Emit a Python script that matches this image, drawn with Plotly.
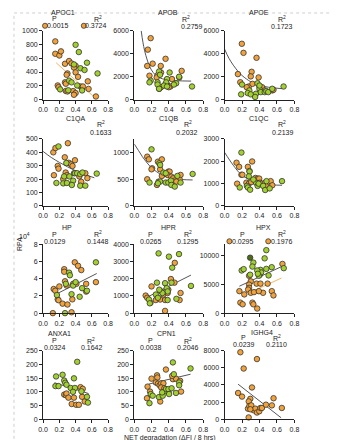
import plotly.graph_objects as go

W, H = 338, 440

# ---------------- data ----------------
# group codes: o = orange, g = green, d = dark green
APOC1_x = [0.15,0.15,0.20,0.22,0.27,0.32,0.35,0.40,0.38,0.30,0.29,0.40,0.43,0.55,0.56,0.18,0.19,0.27,0.28,0.28,0.30,0.37,0.40,0.38,0.46,0.48,0.49,0.65,
           0.40,0.44,0.38,0.46,0.51,0.54,0.67,0.32,0.35,0.42,0.21,0.31,0.48]
APOC1_y = [845,665,640,700,520,560,525,490,465,380,360,395,330,265,155,205,180,250,230,125,118,123,95,70,190,155,190,45,
           795,690,510,455,430,535,380,275,250,205,148,135,133]
APOC1_g = ["o"]*28 + ["g"]*13
APOC1_fit_x = [0.16, 0.65]
APOC1_fit_y = [535, 15]

APOB_x = [0.19,0.157,0.213,0.15,0.176,0.27,0.307,0.31,0.363,0.26,0.29,0.31,0.38,0.437,0.55,0.42,0.40,0.36,0.523,
          0.19,0.176,0.288,0.299,0.41,0.38,0.37,0.344,0.38,0.486,0.46,0.27,0.27,0.288,0.52,0.67]
APOB_y = [5350,4350,3130,2930,2080,2130,2930,2360,3550,1930,940,1080,1310,1790,2500,1140,1080,1310,1930,
          1650,1500,2450,2160,2360,1790,1500,1220,1140,1420,1310,1500,1310,940,1990,1140]
APOB_g = ["o"]*19 + ["g"]*16
APOB_fit_x = [0.08,0.10,0.12,0.15,0.18,0.22,0.27,0.33,0.40,0.50,0.66]
APOB_fit_y = [6000,5000,4250,3450,2850,2350,2000,1800,1700,1640,1610]

APOE_x = [0.198,0.217,0.366,0.153,0.31,0.30,0.39,0.18,0.277,0.32,0.40,0.43,0.254,0.546,0.56,0.46,
          0.20,0.19,0.284,0.265,0.30,0.36,0.377,0.40,0.415,0.46,0.478,0.50,0.546,0.676,0.35,0.40]
APOE_y = [4860,4070,3640,2220,2420,2020,1930,1510,1140,1370,1140,1080,1080,800,850,800,
          1310,455,800,570,455,510,1420,940,650,650,740,650,940,1140,230,1220]
APOE_g = ["o"]*16 + ["g"]*16
APOE_fit_x = [0.0,0.05,0.10,0.15,0.20,0.25,0.30,0.40,0.50,0.66]
APOE_fit_y = [4400,3600,3000,2500,2100,1800,1550,1250,1080,950]

C1QA_x = [0.126,0.152,0.305,0.267,0.316,0.343,0.362,0.392,0.18,0.19,0.133,0.278,0.293,0.381,0.446,0.469,0.52,0.545,0.248,
          0.19,0.286,0.259,0.248,0.164,0.293,0.324,0.37,0.392,0.419,0.457,0.484,0.354,0.457,0.52,0.66]
C1QA_y = [400,432,468,363,322,310,298,341,298,278,229,249,229,244,220,180,244,207,200,
          444,320,220,168,171,171,220,188,244,244,237,249,156,151,151,241]
C1QA_g = ["o"]*19 + ["g"]*16
C1QA_fit_x = [0.0,0.1,0.2,0.3,0.4,0.5,0.63]
C1QA_fit_y = [407,362,325,292,262,237,210]

C1QB_x = [0.15,0.169,0.207,0.20,0.274,0.32,0.30,0.395,0.41,0.387,0.43,0.45,0.32,0.282,0.263,0.15,0.47,0.526,0.537,0.489,
          0.20,0.177,0.29,0.30,0.338,0.365,0.30,0.274,0.365,0.395,0.425,0.43,0.47,0.50,0.537,0.677]
C1QB_y = [919,869,702,683,826,869,683,640,640,578,546,515,559,453,391,497,472,497,578,453,
          1056,435,795,764,621,609,453,422,435,435,472,391,360,559,435,596]
C1QB_g = ["o"]*20 + ["g"]*16
C1QB_fit_x = [0.0,0.05,0.094,0.15,0.207,0.32,0.43,0.55,0.677]
C1QB_fit_y = [1155,1030,919,800,702,578,515,492,484]

C1QC_x = [0.137,0.167,0.267,0.316,0.286,0.193,0.204,0.144,0.353,0.379,0.397,0.405,0.427,0.25,0.278,0.305,0.465,0.528,0.472,0.547,
          0.193,0.286,0.278,0.174,0.256,0.267,0.293,0.36,0.379,0.39,0.442,0.465,0.48,0.517,0.658,0.33]
C1QC_y = [1934,1749,1749,1991,1564,1394,1394,995,1251,1223,1223,1038,995,1038,995,1066,1038,1109,896,924,
          2389,1536,1322,824,896,824,725,1038,896,995,896,711,1109,782,1109,1180]
C1QC_g = ["o"]*20 + ["g"]*16
C1QC_fit_x = [0.0,0.05,0.10,0.193,0.323,0.472,0.658]
C1QC_fit_y = [2400,2100,1820,1394,1109,967,924]

HP_x = [0.12,0.13,0.15,0.18,0.19,0.24,0.20,0.26,0.26,0.27,0.30,0.29,0.35,0.36,0.37,0.39,0.41,0.43,0.47,0.53,0.53,0.65,
        0.17,0.28,0.27,0.32,0.33,0.35,0.37,0.40,0.45,0.48,0.54,0.65]
HP_y = [0.0,2.8,2.6,1.6,1.5,1.1,3.1,5.1,4.8,3.7,1.0,3.2,0.1,1.6,3.4,5.9,3.4,5.5,5.0,2.5,3.4,3.6,
        2.1,3.4,0.0,4.7,4.4,2.2,3.2,3.6,1.9,2.9,2.6,5.9]
HP_g = ["o"]*22 + ["g"]*12
HP_fit_x = [0.16, 0.66]
HP_fit_y = [2.2, 4.6]

HPR_x = [0.47,0.425,0.466,0.20,0.312,0.338,0.387,0.395,0.132,0.15,0.188,0.25,0.30,0.357,0.357,0.526,0.537,
         0.282,0.402,0.519,0.44,0.357,0.432,0.376,0.387,0.327,0.263,0.25,0.17,0.18,0.274,0.29,0.387,0.489,0.658]
HPR_y = [2920,1980,1770,1550,1260,1080,1170,1360,1020,890,600,760,790,760,130,760,1170,
         3470,3280,3430,2640,1740,1770,1450,1260,1170,1770,1080,790,570,890,1360,760,830,1580]
HPR_g = ["o"]*17 + ["g"]*18
HPR_fit_x = [0.17, 0.658]
HPR_fit_y = [980, 2210]

HPX_x = [0.663,0.393,0.404,0.281,0.30,0.281,0.281,0.17,0.226,0.27,0.30,0.337,0.367,0.411,0.493,0.541,0.56,0.441,0.393,0.181,0.207,0.319,0.33,0.374,
         0.478,0.293,0.459,0.33,0.319,0.196,0.219,0.54,0.678,0.478,0.411,0.419,0.374,0.293,0.504,0.393,0.381]
HPX_y = [8570,6970,6690,6510,5540,4970,4400,3830,3260,4110,3540,3660,5140,5140,5140,3830,3090,3540,3830,1830,1540,1830,1540,800,
         10970,9660,9540,8800,8110,7430,7660,8000,7830,7710,7540,7090,7430,6690,6570,6510,6860]
HPX_g = ["o"]*24 + ["g", "d"] + ["g"]*15
HPX_fit_x = [0.17, 0.67]
HPX_fit_y = [4690, 8230]
HPX_fit2_x = [0.281, 0.652]
HPX_fit2_y = [3540, 6110]

ANXA1_x = [0.26,0.28,0.288,0.312,0.352,0.38,0.408,0.44,0.46,0.48,0.512,0.488,
           0.42,0.16,0.152,0.19,0.24,0.26,0.272,0.288,0.38,0.34,0.392,0.368,0.472,0.54,0.552]
ANXA1_y = [90,88,94,79,56,79,53,53,117,82,65,111,
           209,156,121,121,162,141,133,126,149,114,114,100,102,82,61]
ANXA1_g = ["o"]*12 + ["g"]*15
ANXA1_fit_x = [0.14, 0.56]
ANXA1_fit_y = [133, 94]

CPN1_x = [0.2,0.154,0.147,0.183,0.264,0.268,0.25,0.275,0.294,0.312,0.338,0.367,0.312,0.349,0.301,0.459,0.448,0.484,0.44,0.532,0.543,0.396,
          0.448,0.653,0.459,0.19,0.213,0.176,0.286,0.33,0.36,0.367,0.396,0.404,0.433,0.484,0.521,0.521,0.323]
CPN1_y = [148,119,77,101,160,152,134,130,124,131,131,181,116,113,65,148,146,148,158,140,101,101,
          207,185,164,92,86,59,81,86,104,110,110,92,113,96,134,124,98]
CPN1_g = ["o"]*22 + ["g"]*17
CPN1_fit_x = [0.165, 0.653]
CPN1_fit_y = [128, 164]

IGHG4_x = [0.181,0.371,0.219,0.314,0.155,0.20,0.295,0.277,0.561,0.542,0.656,0.268,0.284,0.306,0.333,0.352,0.371,0.398,0.41,0.428,0.474,0.295,0.276]
IGHG4_y = [7800,7010,5910,3710,3070,2650,2390,2090,2460,1630,1330,1250,1550,1630,1060,1250,800,950,1330,1330,1710,1180,230]
IGHG4_g = ["o"]*23
IGHG4_fit_x = [0.155, 0.648]
IGHG4_fit_y = [4090, 190]

TITLES = ["APOC1","APOB","APOE","C1QA","C1QB","C1QC","HP","HPR","HPX","ANXA1","CPN1","IGHG4"]
P_VALUES = ["0.0015", None, None, None, None, None, "0.0129", "0.0265", "0.0295", "0.0324", "0.0038", "0.0239"]
R2_VALUES = ["0.3724","0.2759","0.1723","0.1633","0.2032","0.2139","0.1448","0.1295","0.1976","0.1642","0.2046","0.2110"]
Y_MAX = [1000, 6000, 6000, 500, 1250, 3000, 8, 4000, 12000, 250, 250, 8000]
Y_DTICK = [200, 2000, 2000, 100, 500, 1000, 2, 1000, 5000, 50, 50, 2000]
X_TICKS = [0.0, 0.2, 0.4, 0.6, 0.8]
X_TITLE = "NET degradation (ΔFI / 8 hrs)"
Y_TITLE = "RPA"

# ---------------- style ----------------
ORANGE = "#F2A23A"
GREEN = "#A2D12E"
DKGREEN = "#4E6B16"
FILL = {"o": ORANGE, "g": GREEN, "d": DKGREEN}
LINE_GRAY = "#555555"
LINE_ORANGE = "#F7B860"
FONT = "Liberation Sans"
TXT = "#222222"

COLX = [(31, 98), (125, 196), (218, 290)]
ROWY = [(19, 89), (129, 197), (236, 306), (344, 414)]

def fx(px):
    return px / W

def fy(py):
    return 1 - py / H

panels = [
    (APOC1_x, APOC1_y, APOC1_g, [(APOC1_fit_x, APOC1_fit_y, LINE_ORANGE, "linear")]),
    (APOB_x, APOB_y, APOB_g, [(APOB_fit_x, APOB_fit_y, LINE_GRAY, "spline")]),
    (APOE_x, APOE_y, APOE_g, [(APOE_fit_x, APOE_fit_y, LINE_GRAY, "spline")]),
    (C1QA_x, C1QA_y, C1QA_g, [(C1QA_fit_x, C1QA_fit_y, LINE_GRAY, "spline")]),
    (C1QB_x, C1QB_y, C1QB_g, [(C1QB_fit_x, C1QB_fit_y, LINE_GRAY, "spline")]),
    (C1QC_x, C1QC_y, C1QC_g, [(C1QC_fit_x, C1QC_fit_y, LINE_GRAY, "spline")]),
    (HP_x, HP_y, HP_g, [(HP_fit_x, HP_fit_y, LINE_GRAY, "linear")]),
    (HPR_x, HPR_y, HPR_g, [(HPR_fit_x, HPR_fit_y, LINE_GRAY, "linear")]),
    (HPX_x, HPX_y, HPX_g, [(HPX_fit_x, HPX_fit_y, LINE_GRAY, "linear"),
                            (HPX_fit2_x, HPX_fit2_y, LINE_ORANGE, "linear")]),
    (ANXA1_x, ANXA1_y, ANXA1_g, [(ANXA1_fit_x, ANXA1_fit_y, LINE_GRAY, "linear")]),
    (CPN1_x, CPN1_y, CPN1_g, [(CPN1_fit_x, CPN1_fit_y, LINE_GRAY, "linear")]),
    (IGHG4_x, IGHG4_y, IGHG4_g, [(IGHG4_fit_x, IGHG4_fit_y, LINE_GRAY, "linear")]),
]

fig = go.Figure()
layout = dict(width=W, height=H, margin=dict(l=0, r=0, t=0, b=0),
              paper_bgcolor="white", plot_bgcolor="white", showlegend=False,
              font=dict(family=FONT, size=7, color=TXT))

for i, (xs, ys, gs, fits) in enumerate(panels):
    r, c = divmod(i, 3)
    sfx = "" if i == 0 else str(i + 1)
    xa, ya = "x" + sfx, "y" + sfx
    x0, x1 = COLX[c]
    y0, y1 = ROWY[r]
    common = dict(showline=True, linecolor="#222", linewidth=1, ticks="outside",
                  ticklen=3, tickwidth=1, tickcolor="#222", showgrid=False, zeroline=False,
                  tickfont=dict(family=FONT, size=7, color=TXT), fixedrange=True,
                  exponentformat="none", separatethousands=False)
    layout["xaxis" + sfx] = dict(common, domain=[fx(x0), fx(x1)], range=[0, 0.8],
                                 tickvals=X_TICKS, tickformat=".1f", anchor=ya)
    layout["yaxis" + sfx] = dict(common, domain=[fy(y1), fy(y0)], range=[0, Y_MAX[i]],
                                 tick0=0, dtick=Y_DTICK[i], tickformat="d", anchor=xa)
    for fxs, fys, col, shp in fits:
        fig.add_trace(go.Scatter(x=fxs, y=fys, mode="lines", xaxis=xa, yaxis=ya,
                                 line=dict(color=col, width=1, shape=shp, smoothing=1.0),
                                 hoverinfo="skip", cliponaxis=True))
    for key in ["o", "g", "d"]:
        px_ = [x for x, g in zip(xs, gs) if g == key]
        py_ = [y for y, g in zip(ys, gs) if g == key]
        if not px_:
            continue
        fig.add_trace(go.Scatter(x=px_, y=py_, mode="markers", xaxis=xa, yaxis=ya,
                                 marker=dict(size=5.5, color=FILL[key],
                                             line=dict(color="#333", width=0.8)),
                                 cliponaxis=False))

# ---------------- annotations ----------------
ann = []
def text(t, px, py, size=7, **kw):
    ann.append(dict(text=t, x=fx(px), y=fy(py), xref="paper", yref="paper",
                    showarrow=False, xanchor="center", yanchor="middle",
                    font=dict(family=FONT, size=size, color=TXT), **kw))

TITLE_POS = [(52, 1), (160, 1), (253, 1), (64, 109), (160, 109), (253, 109),
             (56, 219), (160, 219), (258, 219), (48, 327), (158, 327), (257, 326)]
P_POS = [(43, 7, 46, 14), None, None, None, None, None,
         (43, 226, 43, 233), (142, 226, 142, 233), (237, 226, 237, 233),
         (43, 334, 43, 341), (142, 334, 142, 341), (238, 331, 238, 338)]
R_POS = [(88, 7, 86, 14), (178, 7, 184, 15), (277, 7, 277, 15),
         (91, 114, 91, 122), (180, 114, 179, 122), (277, 114, 278, 122),
         (88, 226, 88, 233), (180, 226, 180, 233), (277, 226, 277, 233),
         (80, 334, 81, 341), (180, 334, 180, 341), (272, 331, 272, 338)]

for i in range(12):
    text(TITLES[i], *TITLE_POS[i])
    if P_VALUES[i] is not None:
        a, b, cc, d = P_POS[i]
        text("P", a, b)
        text(P_VALUES[i], cc, d)
    a, b, cc, d = R_POS[i]
    text("R<sup>2</sup>", a, b)
    text(R2_VALUES[i], cc, d)

text("10<sup>4</sup>", 12, 228)
text(Y_TITLE, 6, 236, textangle=-90)
text(X_TITLE, 162, 433)

# legend dots (APOC1 and HPX)
shapes = []
for (cx, cy) in [(33, 14), (73, 14), (223, 233), (263, 233)]:
    rpx = 2.6
    shapes.append(dict(type="circle", xref="paper", yref="paper",
                       x0=fx(cx - rpx), x1=fx(cx + rpx), y0=fy(cy + rpx), y1=fy(cy - rpx),
                       fillcolor=ORANGE, line=dict(color="#333", width=0.8)))
# faint dotted frame
shapes.append(dict(type="rect", xref="paper", yref="paper", x0=fx(1), x1=fx(337), y0=fy(439), y1=fy(1),
                   line=dict(color="#cfcfcf", width=1, dash="dot"), fillcolor="rgba(0,0,0,0)", layer="below"))

layout["annotations"] = ann
layout["shapes"] = shapes
fig.update_layout(**layout)
fig.write_html("out.html")
